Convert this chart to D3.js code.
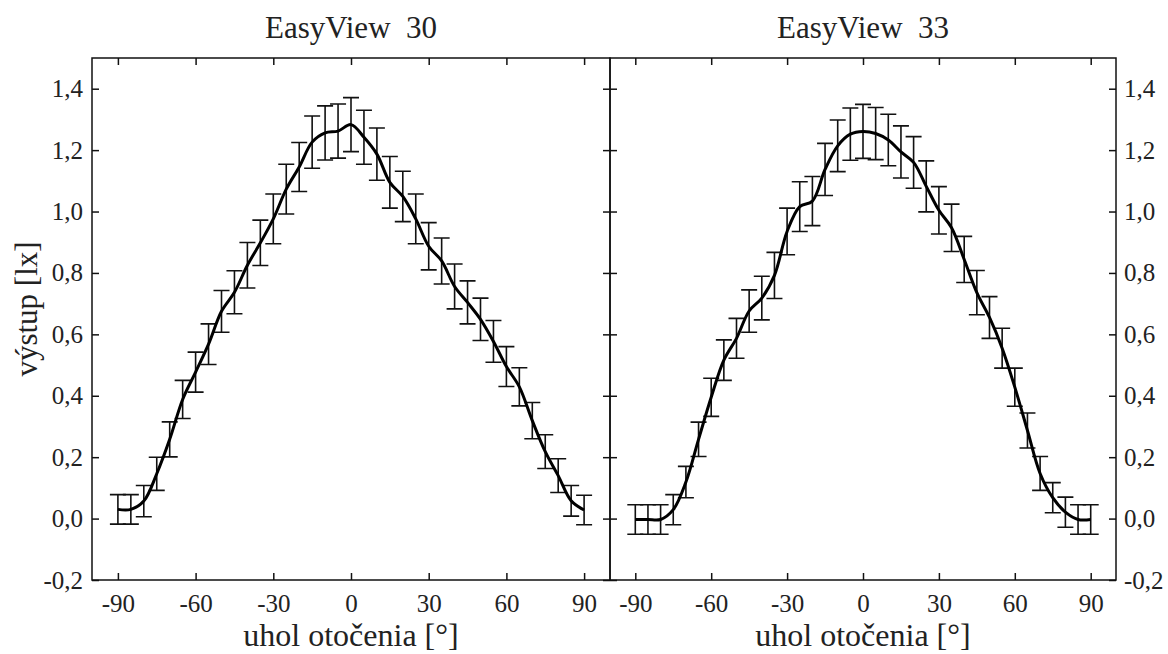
<!DOCTYPE html>
<html>
<head>
<meta charset="utf-8">
<script src="https://cdn.jsdelivr.net/npm/d3@7"></script>
<style>
  body { margin: 0; background: #fff; }
  svg { display: block; }
  text { font-family: 'Liberation Serif', 'Times New Roman', serif; fill: #222; }
  .tick line { stroke: #111; stroke-width: 1.5; }
  .tick text { font-size: 25px; fill: #222; }
</style>
</head>
<body>
<div id="chart"></div>
<script>
// angles [°]
const angles = [-90, -85, -80, -75, -70, -65, -60, -55, -50, -45, -40, -35, -30, -25, -20, -15, -10, -5,
  0, 5, 10, 15, 20, 25, 30, 35, 40, 45, 50, 55, 60, 65, 70, 75, 80, 85, 90];

// EasyView 30: output [lx] and its error
const ev30 = [0.030, 0.030, 0.057, 0.146, 0.258, 0.388, 0.477, 0.568, 0.675, 0.737, 0.825, 0.898, 0.976, 1.073, 1.145, 1.226, 1.256, 1.262,
  1.283, 1.242, 1.187, 1.095, 1.049, 0.976, 0.887, 0.839, 0.756, 0.704, 0.649, 0.577, 0.495, 0.429, 0.319, 0.218, 0.140, 0.058, 0.028];
const ev30Err = [0.048, 0.048, 0.051, 0.054, 0.057, 0.062, 0.065, 0.066, 0.068, 0.070, 0.074, 0.074, 0.081, 0.081, 0.080, 0.085, 0.088, 0.088,
  0.088, 0.088, 0.085, 0.084, 0.082, 0.081, 0.077, 0.075, 0.073, 0.070, 0.069, 0.068, 0.065, 0.062, 0.059, 0.055, 0.055, 0.050, 0.048];

// EasyView 33
const ev33 = [-0.003, -0.003, -0.003, 0.029, 0.119, 0.258, 0.395, 0.516, 0.587, 0.676, 0.718, 0.792, 0.935, 1.016, 1.034, 1.137, 1.214, 1.252,
  1.261, 1.254, 1.233, 1.194, 1.160, 1.082, 1.004, 0.947, 0.844, 0.736, 0.655, 0.555, 0.428, 0.287, 0.147, 0.068, 0.021, -0.003, -0.003];
const ev33Err = [0.048, 0.048, 0.048, 0.049, 0.051, 0.056, 0.062, 0.066, 0.065, 0.069, 0.071, 0.075, 0.076, 0.081, 0.080, 0.085, 0.084, 0.085,
  0.088, 0.085, 0.084, 0.085, 0.084, 0.083, 0.077, 0.077, 0.075, 0.072, 0.068, 0.065, 0.062, 0.057, 0.055, 0.049, 0.049, 0.048, 0.048];

const xTicks = [-90, -60, -30, 0, 30, 60, 90];
const yTicks = [-0.2, 0, 0.2, 0.4, 0.6, 0.8, 1.0, 1.2, 1.4];
const titles = ['EasyView  30', 'EasyView  33'];
const xLabel = 'uhol otočenia [°]';
const yLabel = 'výstup [lx]';

const width = 1168;
const height = 654;
const plotTop = 58;
const plotBottom = 580;

const locale = d3.formatLocale({
  decimal: ',', thousands: ' ', grouping: [3], currency: ['', ''], minus: '-',
});
const fmtY = locale.format('.1f');
const fmtX = locale.format('d');

const svg = d3.select('#chart')
  .append('svg')
  .attr('width', width)
  .attr('height', height);

const y = d3.scaleLinear().domain([-0.2, 1.5]).range([plotBottom, plotTop]);

const panels = [
  { left: 92, right: 610, values: ev30, errors: ev30Err, title: titles[0], labels: 'left' },
  { left: 610, right: 1116, values: ev33, errors: ev33Err, title: titles[1], labels: 'right' },
];

panels.forEach((p) => {
  const x = d3.scaleLinear().domain([-100, 100]).range([p.left, p.right]);
  const g = svg.append('g');

  // ticks on all four sides, pointing inwards
  g.append('g')
    .attr('transform', `translate(0, ${plotBottom})`)
    .call(d3.axisBottom(x).tickValues(xTicks).tickSize(-7).tickPadding(14).tickFormat(fmtX))
    .call(a => a.select('.domain').remove());

  g.append('g')
    .attr('transform', `translate(0, ${plotTop})`)
    .call(d3.axisTop(x).tickValues(xTicks).tickSize(-7).tickFormat(''))
    .call(a => a.select('.domain').remove());

  g.append('g')
    .attr('transform', `translate(${p.left}, 0)`)
    .call(d3.axisLeft(y).tickValues(yTicks).tickSize(-7).tickPadding(9)
      .tickFormat(p.labels === 'left' ? fmtY : ''))
    .call(a => a.select('.domain').remove());

  g.append('g')
    .attr('transform', `translate(${p.right}, 0)`)
    .call(d3.axisRight(y).tickValues(yTicks).tickSize(-7).tickPadding(8)
      .tickFormat(p.labels === 'right' ? fmtY : ''))
    .call(a => a.select('.domain').remove());

  // frame
  g.append('rect')
    .attr('x', p.left)
    .attr('y', plotTop)
    .attr('width', p.right - p.left)
    .attr('height', plotBottom - plotTop)
    .attr('fill', 'none')
    .attr('stroke', '#111')
    .attr('stroke-width', 1.5);

  const data = angles.map((a, i) => ({ a, v: p.values[i], e: p.errors[i] }));

  // error bars
  const bars = g.append('g')
    .attr('stroke', '#111')
    .attr('stroke-width', 1.6)
    .attr('fill', 'none');

  bars.selectAll('path')
    .data(data)
    .join('path')
    .attr('d', (d) => {
      const cx = x(d.a);
      const y0 = y(d.v - d.e);
      const y1 = y(d.v + d.e);
      return `M${cx},${y0}V${y1}M${cx - 8},${y1}H${cx + 8}M${cx - 8},${y0}H${cx + 8}`;
    });

  // the curve
  const line = d3.line()
    .x(d => x(d.a))
    .y(d => y(d.v))
    .curve(d3.curveCatmullRom);

  g.append('path')
    .attr('d', line(data))
    .attr('fill', 'none')
    .attr('stroke', '#000')
    .attr('stroke-width', 3);

  // title and x label
  g.append('text')
    .attr('x', (p.left + p.right) / 2)
    .attr('y', 38)
    .attr('text-anchor', 'middle')
    .style('font-size', '31px')
    .style('white-space', 'pre')
    .text(p.title);

  g.append('text')
    .attr('x', (p.left + p.right) / 2)
    .attr('y', 646)
    .attr('text-anchor', 'middle')
    .style('font-size', '32px')
    .text(xLabel);
});

svg.append('text')
  .attr('transform', 'translate(37, 309) rotate(-90)')
  .attr('text-anchor', 'middle')
  .style('font-size', '31px')
  .text(yLabel);
</script>
</body>
</html>
